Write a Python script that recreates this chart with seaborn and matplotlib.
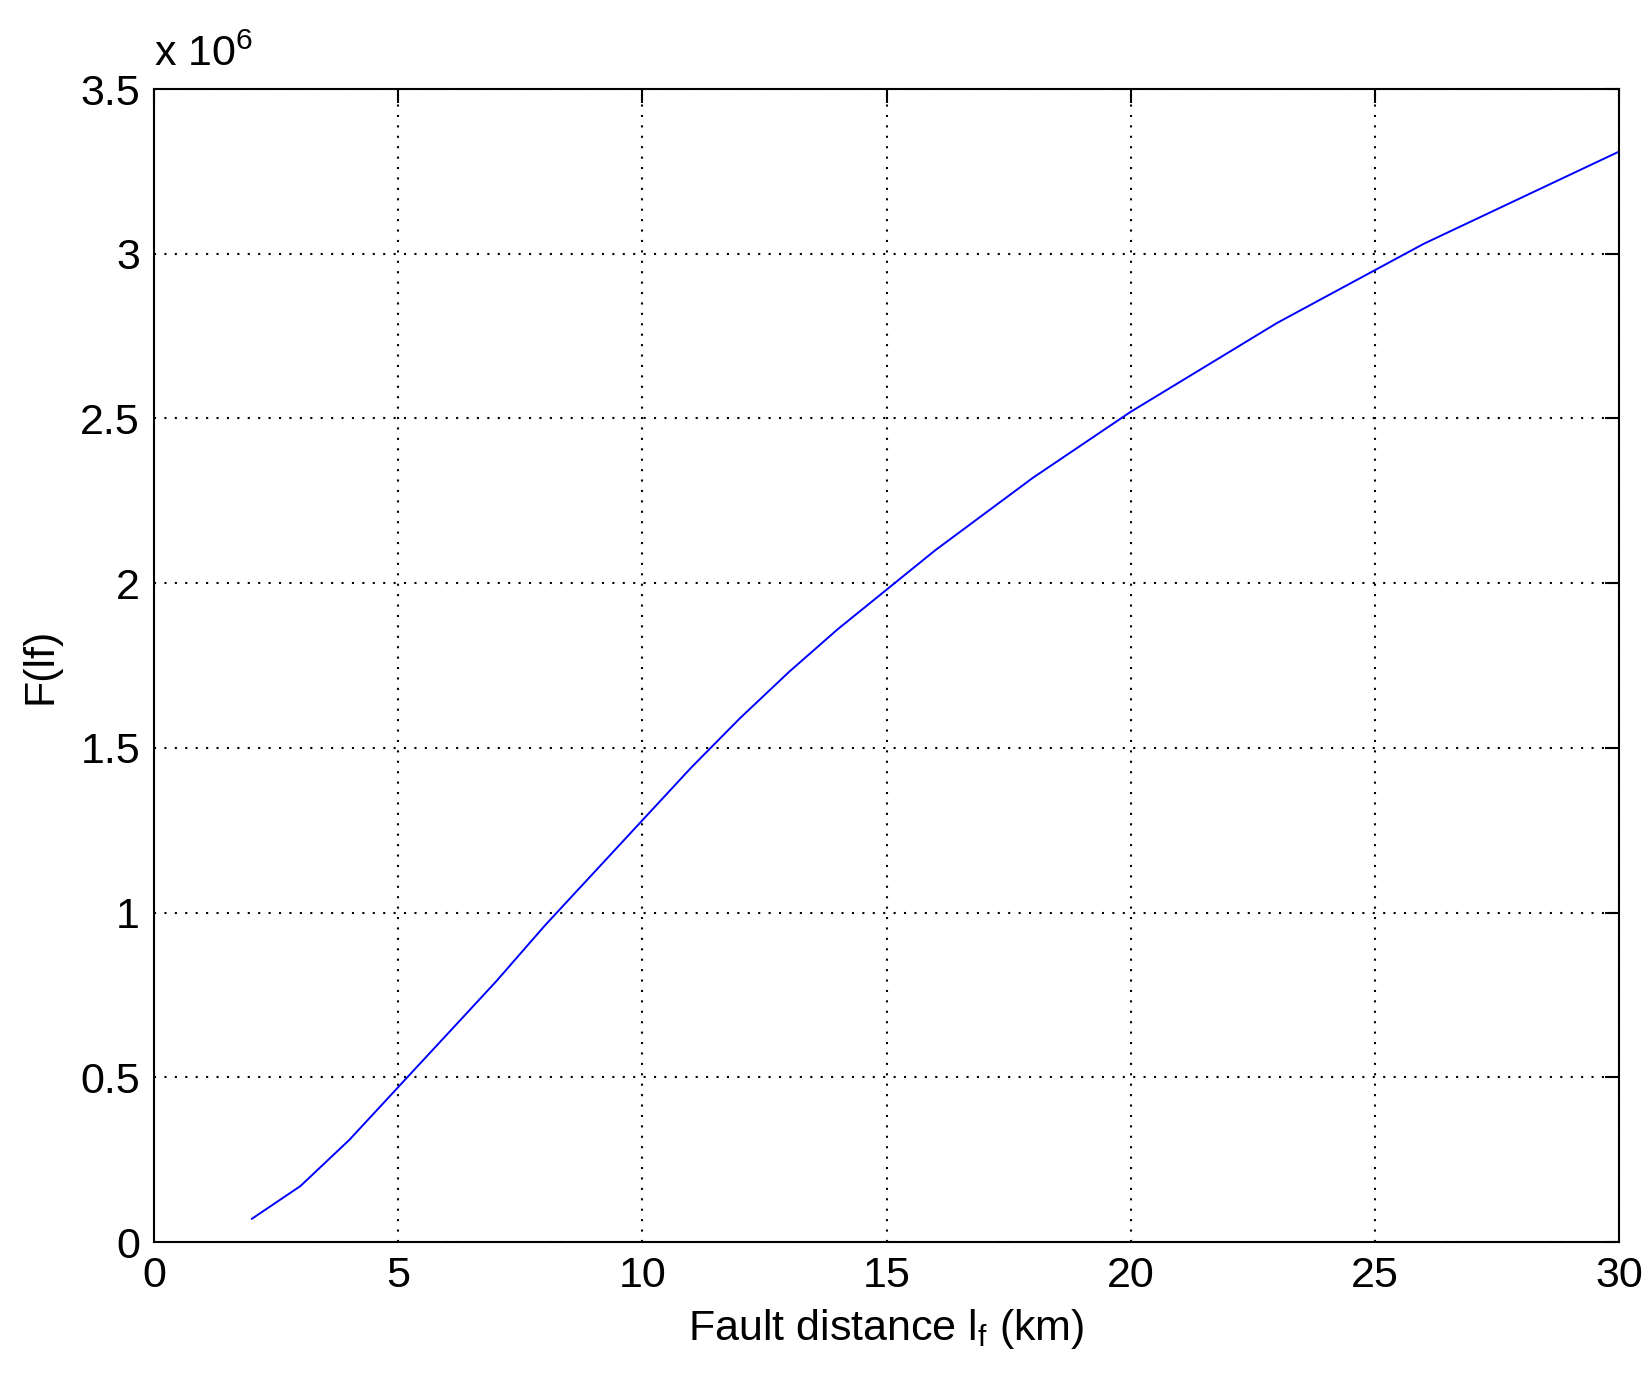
import matplotlib
matplotlib.use("Agg")
import matplotlib.pyplot as plt
import seaborn as sns
import pandas as pd

fault_km = list(range(2, 31))
f_lf_millions = [0.07, 0.17, 0.31, 0.47, 0.63, 0.79, 0.96, 1.12, 1.28, 1.44, 1.59, 1.73,
                 1.86, 1.98, 2.10, 2.21, 2.32, 2.42, 2.52, 2.61, 2.70, 2.79, 2.87, 2.95,
                 3.03, 3.10, 3.17, 3.24, 3.31]
x_ticks = [0, 5, 10, 15, 20, 25, 30]
y_ticks = [0, 0.5, 1, 1.5, 2, 2.5, 3, 3.5]
y_tick_labels = ["0", "0.5", "1", "1.5", "2", "2.5", "3", "3.5"]

sns.set_style("white")
plt.rcParams['font.family'] = ['Liberation Sans', 'DejaVu Sans']
plt.rcParams['mathtext.fontset'] = 'custom'
plt.rcParams['mathtext.rm'] = 'Liberation Sans'
plt.rcParams['text.color'] = 'black'
plt.rcParams['axes.labelcolor'] = 'black'
plt.rcParams['xtick.color'] = 'black'
plt.rcParams['ytick.color'] = 'black'

df = pd.DataFrame({"x": fault_km, "y": f_lf_millions})
fig = plt.figure(figsize=(16.5, 13.86), dpi=100)
L, R, T, B = 154, 1619, 89, 1242
ax = fig.add_axes([L/1650, 1-B/1386, (R-L)/1650, (B-T)/1386])
sns.lineplot(data=df, x="x", y="y", ax=ax, color="#0000ff", linewidth=1.4)
ax.set_xlim(0, 30)
ax.set_ylim(0, 3.5)
ax.set_xticks(x_ticks)
ax.set_yticks(y_ticks)
ax.set_yticklabels(y_tick_labels)
ax.grid(True, color="black", linestyle=(0, (1, 4)), linewidth=1.5)
ax.tick_params(direction="in", length=10, width=1.5, labelsize=31, top=True, right=True, pad=10)
for s in ax.spines.values():
    s.set_color("black"); s.set_linewidth(1.5); s.set_visible(True)
ax.set_xlabel(r"Fault distance l$_\mathregular{f}$ (km)", fontsize=31, labelpad=8)
ax.set_ylabel("F(lf)", fontsize=31, labelpad=14)
ax.text(0.0, 1.012, r"x 10$^\mathregular{6}$", transform=ax.transAxes, fontsize=31, ha="left", va="bottom")
fig.savefig("out.png", dpi=100)
